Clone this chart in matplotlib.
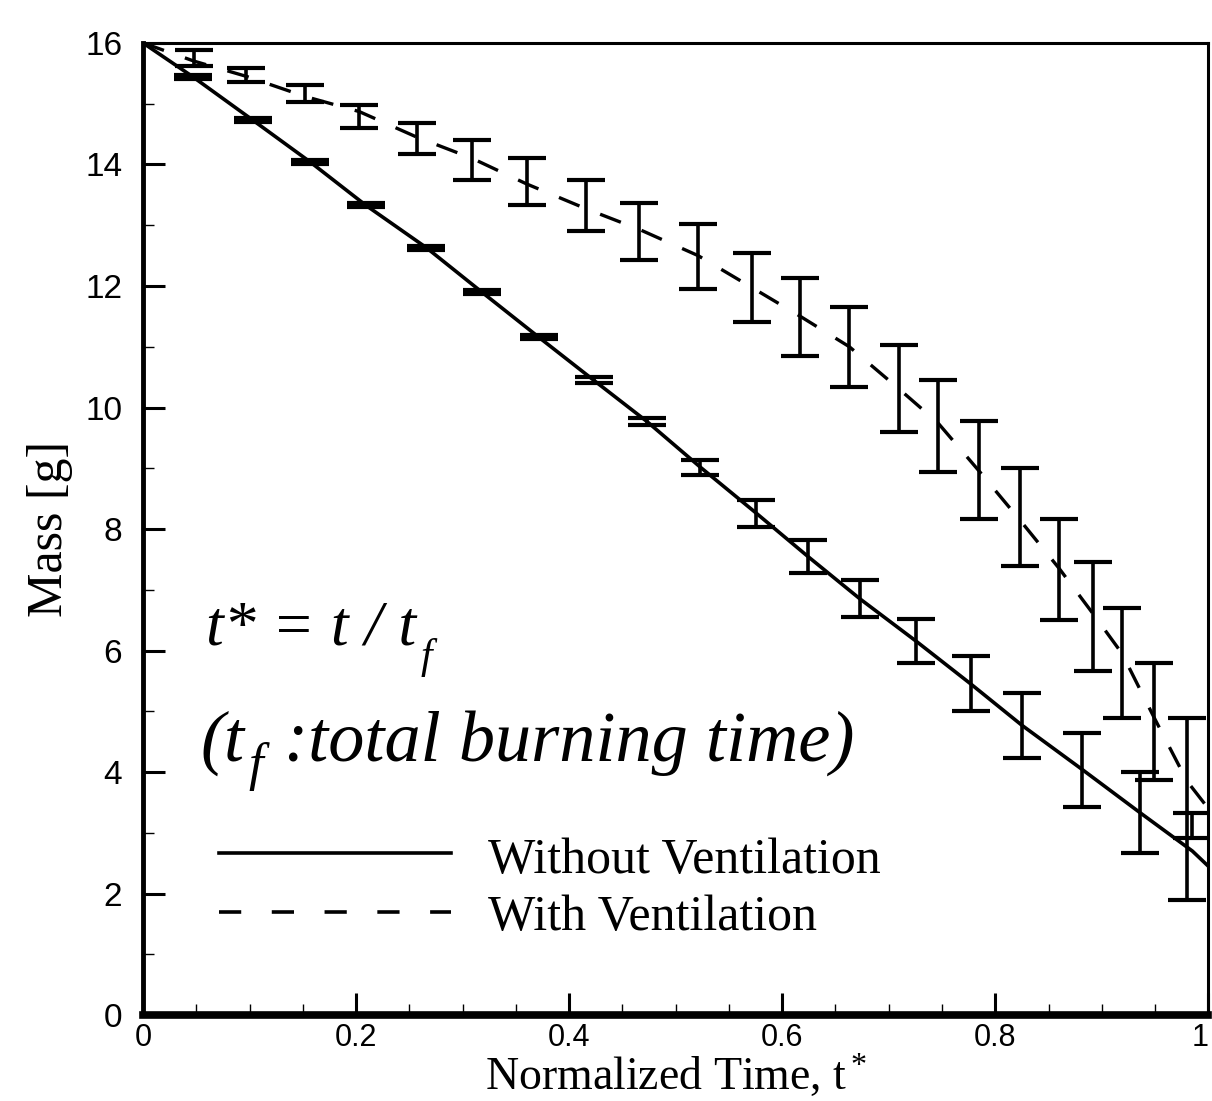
import matplotlib

matplotlib.use("Agg")
import matplotlib.pyplot as plt
import numpy as np

plt.rcParams["lines.scale_dashes"] = False
plt.rcParams["mathtext.fontset"] = "custom"
plt.rcParams["mathtext.rm"] = "Liberation Serif"
plt.rcParams["mathtext.it"] = "Liberation Serif:italic"

# Without ventilation: mean curve and error bars
t_line_novent = [0.0, 0.047, 0.103, 0.157, 0.209, 0.266, 0.318, 0.372, 0.423, 0.473,
                 0.523, 0.575, 0.624, 0.673, 0.726, 0.777, 0.825, 0.881, 0.936, 0.985, 1.0]
m_line_novent = [16.0, 15.44, 14.73, 14.04, 13.33, 12.63, 11.90, 11.15, 10.45, 9.77,
                 9.02, 8.27, 7.55, 6.85, 6.15, 5.45, 4.77, 4.05, 3.33, 2.70, 2.45]
t_bar_novent = [0.047, 0.103, 0.157, 0.209, 0.266, 0.318, 0.372, 0.423, 0.473, 0.523,
                0.575, 0.624, 0.673, 0.726, 0.777, 0.825, 0.881, 0.936, 0.985]
hi_novent = [15.48, 14.76, 14.07, 13.36, 12.66, 11.93, 11.19, 10.50, 9.83, 9.14,
             8.48, 7.82, 7.16, 6.52, 5.91, 5.30, 4.64, 4.00, 3.33]
lo_novent = [15.40, 14.70, 14.01, 13.30, 12.60, 11.87, 11.12, 10.40, 9.71, 8.89,
             8.03, 7.28, 6.55, 5.79, 5.00, 4.23, 3.42, 2.67, 2.91]

# With ventilation: mean curve and error bars
t_line_vent = [0.0, 0.048, 0.097, 0.152, 0.203, 0.257, 0.309, 0.360, 0.416, 0.466, 0.521,
               0.572, 0.617, 0.663, 0.710, 0.746, 0.785, 0.823, 0.860, 0.892, 0.919,
               0.949, 0.980, 1.0]
m_line_vent = [16.0, 15.70, 15.45, 15.12, 14.87, 14.45, 14.10, 13.68, 13.27, 12.93, 12.50,
               11.97, 11.50, 11.00, 10.30, 9.75, 8.95, 8.15, 7.35, 6.60, 5.95,
               4.90, 3.85, 3.40]
t_bar_vent = [0.048, 0.097, 0.152, 0.203, 0.257, 0.309, 0.360, 0.416, 0.466, 0.521, 0.572,
              0.617, 0.663, 0.710, 0.746, 0.785, 0.823, 0.860, 0.892, 0.919, 0.949, 0.980]
hi_vent = [15.88, 15.59, 15.31, 14.98, 14.68, 14.40, 14.11, 13.74, 13.37, 13.02, 12.54,
           12.13, 11.65, 11.03, 10.45, 9.78, 9.00, 8.16, 7.46, 6.70, 5.79, 4.89]
lo_vent = [15.62, 15.36, 15.03, 14.60, 14.17, 13.74, 13.33, 12.91, 12.43, 11.95, 11.41,
           10.85, 10.34, 9.60, 8.94, 8.16, 7.39, 6.50, 5.66, 4.89, 3.87, 1.89]

x_ticks = [0, 0.2, 0.4, 0.6, 0.8, 1]
x_ticklabels = ["0", "0.2", "0.4", "0.6", "0.8", "1"]
y_ticks = [0, 2, 4, 6, 8, 10, 12, 14, 16]

dash = (0, (16, 16))
legend_dash = (0, (16, 22))
serif = "Liberation Serif"

fig = plt.figure(figsize=(12.12, 11.01), dpi=100)
ax = fig.add_axes([0.118, 0.078, 0.879, 0.883])

ax.plot(t_line_novent, m_line_novent, color="black", lw=2.6, linestyle="solid")
ax.plot(t_line_vent, m_line_vent, color="black", lw=2.4, linestyle=dash)

for t, lo, hi in [(t_bar_novent, lo_novent, hi_novent), (t_bar_vent, lo_vent, hi_vent)]:
    lo = np.array(lo)
    hi = np.array(hi)
    mid = (lo + hi) / 2
    ax.errorbar(t, mid, yerr=(hi - lo) / 2, fmt="none", ecolor="black",
                elinewidth=2.6, capsize=13.5, capthick=3)

ax.set_xlim(0, 1)
ax.set_ylim(0, 16)
ax.set_xticks(x_ticks)
ax.set_xticklabels(x_ticklabels)
ax.set_yticks(y_ticks)
ax.set_xticks(np.arange(0, 1.0001, 0.05), minor=True)
ax.set_yticks(np.arange(0, 16.001, 1), minor=True)

ax.tick_params(axis="both", which="major", direction="in", length=16, width=2.2)
ax.tick_params(axis="both", which="minor", direction="in", length=8, width=1)
ax.tick_params(axis="x", which="major", pad=6)
ax.tick_params(axis="y", which="major", pad=15)
for lab in ax.get_xticklabels():
    lab.set_family("Liberation Sans")
    lab.set_fontsize(22)
ax.get_xticklabels()[-1].set_ha("right")
for lab in ax.get_yticklabels():
    lab.set_family("Liberation Sans")
    lab.set_fontsize(24)

ax.spines["bottom"].set_linewidth(5.5)
ax.spines["left"].set_linewidth(3.5)
ax.spines["top"].set_linewidth(2.2)
ax.spines["right"].set_linewidth(2.2)

ax.set_xlabel("Normalized Time, t$^*$", family=serif, fontsize=33)
ax.xaxis.set_label_coords(0.5, -0.077)
ax.xaxis.label.set_va("baseline")
ax.set_ylabel("Mass [g]", family=serif, fontsize=36)
ax.yaxis.set_label_coords(-0.066, 0.5)

# t* = t / t_f, with a large lowered subscript
eq = ax.text(0.059, 0.381, "t* = t / t", transform=ax.transAxes,
             family=serif, style="italic", fontsize=46, va="baseline")
ax.annotate("f", xy=(1, 0), xycoords=eq, xytext=(3, -7), textcoords="offset points",
            family=serif, style="italic", fontsize=30, va="baseline")

# (t_f :total burning time)
p1 = ax.text(0.054, 0.262, "(t", transform=ax.transAxes,
             family=serif, style="italic", fontsize=52, va="baseline")
sub = ax.annotate("f", xy=(1, 0), xycoords=p1, xytext=(3, -3), textcoords="offset points",
                  family=serif, style="italic", fontsize=38, va="baseline")
ax.annotate(" :total burning time)", xy=(1, 0), xycoords=(sub, p1), xytext=(2, 0),
            textcoords="offset points", family=serif, style="italic", fontsize=52,
            va="bottom")

# legend drawn by hand
ax.plot([0.071, 0.289], [0.1667, 0.1667], transform=ax.transAxes,
        color="black", lw=2.6, linestyle="solid")
ax.plot([0.071, 0.289], [0.106, 0.106], transform=ax.transAxes,
        color="black", lw=2.6, linestyle=legend_dash)
ax.text(0.324, 0.146, "Without Ventilation", transform=ax.transAxes,
        family=serif, fontsize=36, va="baseline")
ax.text(0.324, 0.0875, "With Ventilation", transform=ax.transAxes,
        family=serif, fontsize=36, va="baseline")

fig.savefig("out.png", dpi=100)
